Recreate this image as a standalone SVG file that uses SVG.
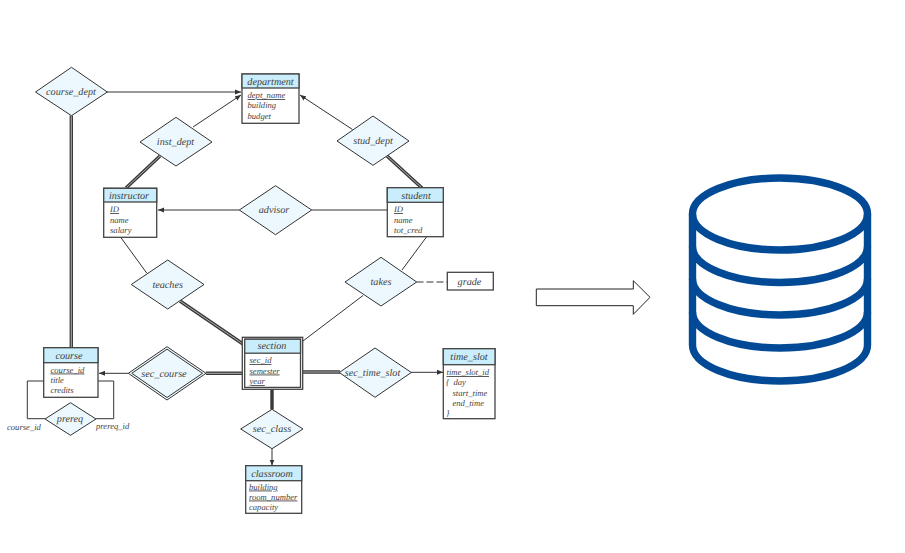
<svg xmlns="http://www.w3.org/2000/svg" width="905" height="553" viewBox="0 0 905 553">
<style>
text{font-family:"Liberation Serif","Times New Roman",serif;font-style:italic;fill:#3a3a3a;opacity:.96;text-rendering:geometricPrecision}
.t{font-size:10.2px;text-anchor:middle}
.a{font-size:8.600px}
.u{text-decoration:underline}
.box{fill:#fff;stroke:#444;stroke-width:1.3}
.hd{fill:#c9edfa;stroke:#444;stroke-width:1.3}
.dia{fill:#ecf8fd;stroke:#333;stroke-width:1}
.ln{fill:none;stroke:#333;stroke-width:1}
.dbl{fill:none;stroke:#3a3a3a;stroke-width:3.4}
.dbw{fill:none;stroke:#fff;stroke-width:.6}
.db{fill:none;stroke:#034a96;stroke-width:7.4}
</style>
<defs>
<marker id="ah" markerWidth="7" markerHeight="6" refX="6" refY="3" orient="auto" markerUnits="userSpaceOnUse"><path d="M0 .5L6 3L0 5.500Z" fill="#333"/></marker>
</defs>
<g id="connectors">
<path class="ln" marker-end="url(#ah)" d="M107 92H241"/>
<path class="ln" marker-end="url(#ah)" d="M193 127L241 95"/>
<path class="ln" marker-end="url(#ah)" d="M352.500 129.500L300 95"/>
<path class="ln" marker-end="url(#ah)" d="M239.500 210H158"/>
<path class="ln" d="M311.500 210H387.500"/>
<path class="ln" d="M426.700 236.700L402 270"/>
<path class="ln" stroke-width="1.300" stroke-dasharray="7 3" d="M416.500 282H447.500"/>
<path class="ln" d="M120.700 237.300L146.700 273"/>
<path class="ln" d="M303 341L363 295.500"/>
<path class="ln" marker-end="url(#ah)" d="M128.500 373.300H99"/>
<path class="ln" marker-end="url(#ah)" d="M411 372.300H443"/>
<path class="ln" marker-end="url(#ah)" d="M272 448.500V465.500"/>
<path class="ln" d="M44 381H27.300V418.700H45"/>
<path class="ln" d="M98 381H113.700V418.700H96"/>
<path class="dbl" d="M71.300 115.500V347.700M160 156L126 188M387 156L422 188M180 301L243 344M206 373.300H242.500M302.700 372H340M272 389V409.500"/>
<path class="dbw" d="M71.300 115.500V347.700M160 156L126 188M387 156L422 188M180 301L243 344M206 373.300H242.500M302.700 372H340"/>
</g>
<g id="course_dept"><path class="dia" d="M35.500 92L71.500 67.300L107.300 92L71.500 115.700Z"/><text class="t" x="71" y="95">course_dept</text></g>
<g id="department"><rect class="box" x="242" y="74" width="57" height="49.300"/><rect class="hd" x="242" y="74" width="57" height="14"/><text class="t" x="270.500" y="84.500">department</text><text class="a u" x="247.500" y="98">dept_name</text><text class="a" x="247.500" y="108">building</text><text class="a" x="247.500" y="118.500">budget</text></g>
<g id="inst_dept"><path class="dia" d="M140 142L176 117.300L212 142L176 166Z"/><text class="t" x="175.500" y="145">inst_dept</text></g>
<g id="stud_dept"><path class="dia" d="M337 141L373 116L409 141L373 165.300Z"/><text class="t" x="373" y="144">stud_dept</text></g>
<g id="instructor"><rect class="box" x="103.700" y="188.300" width="53" height="49"/><rect class="hd" x="103.700" y="188.300" width="53" height="13.700"/><text class="t" x="129" y="198.500">instructor</text><text class="a u" x="110" y="212">ID</text><text class="a" x="110" y="222.500">name</text><text class="a" x="110" y="233">salary</text></g>
<g id="advisor"><path class="dia" d="M239.300 210L275.500 185.700L311.700 210L275.500 234.700Z"/><text class="t" x="274" y="213">advisor</text></g>
<g id="student"><rect class="box" x="387.300" y="187.700" width="56" height="49"/><rect class="hd" x="387.300" y="187.700" width="56" height="14.600"/><text class="t" x="416" y="198.500">student</text><text class="a u" x="394" y="212">ID</text><text class="a" x="394" y="222.500">name</text><text class="a" x="394" y="233">tot_cred</text></g>
<g id="teaches"><path class="dia" d="M131.300 284.500L167.700 260L204 284.500L167.700 309Z"/><text class="t" x="167.700" y="288">teaches</text></g>
<g id="takes"><path class="dia" d="M345 282L381 257.300L416.700 282L381 306Z"/><text class="t" x="381" y="285">takes</text></g>
<g id="grade"><rect class="box" x="447.300" y="272.300" width="46" height="17.700"/><text class="t" x="469.500" y="284.500">grade</text></g>
<g id="course"><rect class="box" x="43.700" y="347.700" width="54.300" height="49.600"/><rect class="hd" x="43.700" y="347.700" width="54.300" height="15"/><text class="t" x="69" y="359">course</text><text class="a u" x="50.500" y="372.500">course_id</text><text class="a" x="50.500" y="382.500">title</text><text class="a" x="50.500" y="393">credits</text></g>
<g id="sec_course"><path class="dia" stroke-width="1.200" d="M128.300 373.300L167 346.700L206 373.300L167 400Z"/><path class="dia" stroke-width="1.200" d="M131.800 373.300L167 349.200L202.500 373.300L167 397.500Z"/><text class="t" x="164" y="376.500">sec_course</text></g>
<g id="prereq"><path class="dia" d="M45 419L70.500 402.700L96 419L70.500 435.300Z"/><text class="t" x="70" y="422">prereq</text></g>
<text class="a" x="7" y="430">course_id</text>
<text class="a" x="96" y="429">prereq_id</text>
<g id="section"><rect class="box" x="242.300" y="337.300" width="60.400" height="52"/><rect class="box" x="244.700" y="339.200" width="55.800" height="48.200"/><rect class="hd" x="244.700" y="339.200" width="55.800" height="14"/><text class="t" x="272" y="349">section</text><text class="a u" x="249.500" y="363">sec_id</text><text class="a u" x="249.500" y="373.500">semester</text><text class="a u" x="249.500" y="384">year</text></g>
<g id="sec_time_slot"><path class="dia" d="M339.300 372.500L375 348L411.300 372.500L375 397.300Z"/><text class="t" x="372.500" y="375.500">sec_time_slot</text></g>
<g id="time_slot"><rect class="box" x="443.300" y="348.700" width="51.700" height="70"/><rect class="hd" x="443.300" y="348.700" width="51.700" height="16"/><text class="t" x="469" y="360">time_slot</text><text class="a u" x="446.500" y="375">time_slot_id</text><text class="a" x="446" y="385">{</text><text class="a" x="453.500" y="385">day</text><text class="a" x="452.500" y="395.500">start_time</text><text class="a" x="452.500" y="405.500">end_time</text><text class="a" x="446" y="415.500">}</text></g>
<g id="sec_class"><path class="dia" d="M240.700 429L272 409.300L303 429L272 448.700Z"/><text class="t" x="272" y="432">sec_class</text></g>
<g id="classroom"><rect class="box" x="245.700" y="465.700" width="56" height="47.600"/><rect class="hd" x="245.700" y="465.700" width="56" height="15"/><text class="t" x="272" y="476.500">classroom</text><text class="a u" x="249" y="489.500">building</text><text class="a u" x="249" y="499.500">room_number</text><text class="a" x="249" y="510">capacity</text></g>
<g id="arrow"><path fill="#fff" stroke="#222" stroke-width="1" d="M536.300 289H633.300V280.700L650 297.300L633.300 314.300V305.700H536.300Z"/></g>
<g id="database"><ellipse class="db" cx="780" cy="214" rx="87.500" ry="36"/>
<path class="db" d="M692.500 214V345C692.500 365 731.700 381 780 381S867.500 365 867.500 345V214"/>
<path class="db" d="M692.500 246.500C692.500 266.500 731.700 282.500 780 282.500S867.500 266.500 867.500 246.500M692.500 279C692.500 299 731.700 315 780 315S867.500 299 867.500 279M692.500 312C692.500 332 731.700 348 780 348S867.500 332 867.500 312"/></g>
</svg>
